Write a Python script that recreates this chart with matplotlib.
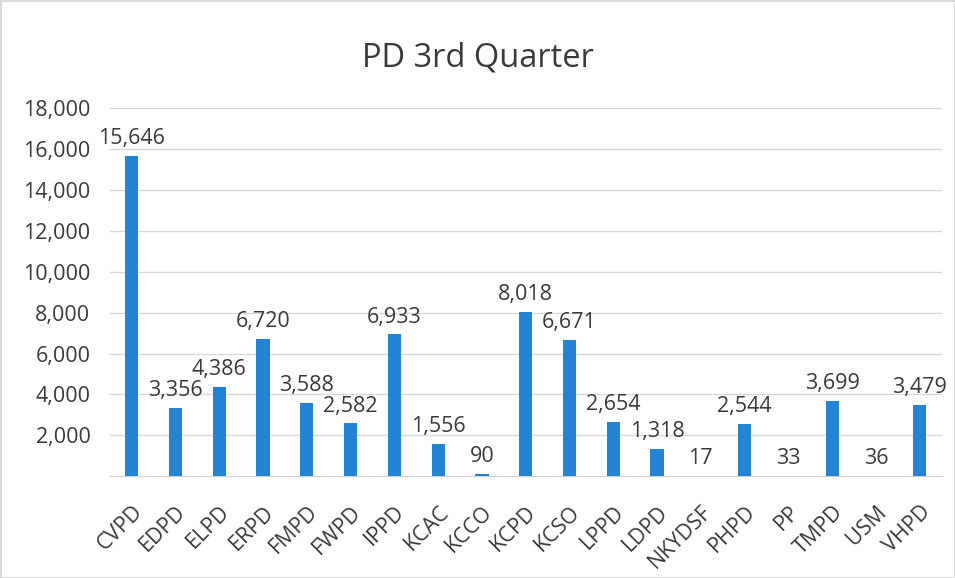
import matplotlib.pyplot as plt
from matplotlib.ticker import FuncFormatter

categories = ['CVPD', 'EDPD', 'ELPD', 'ERPD', 'FMPD', 'FWPD', 'IPPD', 'KCAC', 'KCCO',
              'KCPD', 'KCSO', 'LPPD', 'LDPD', 'NKYDSF', 'PHPD', 'PP', 'TMPD', 'USM', 'VHPD']
values = [15646, 3356, 4386, 6720, 3588, 2582, 6933, 1556, 90,
          8018, 6671, 2654, 1318, 17, 2544, 33, 3699, 36, 3479]
y_ticks = [2000, 4000, 6000, 8000, 10000, 12000, 14000, 16000, 18000]

plt.rcParams['font.family'] = ['Open Sans', 'DejaVu Sans']
text_color = '#3a3a3a'
bar_color = '#2384d3'

fig = plt.figure(figsize=(9.55, 5.78), dpi=100)
fig.patch.set_facecolor('white')
fig.patch.set_edgecolor('#d9d9d9')
fig.patch.set_linewidth(2)

ax = fig.add_axes([0.115, 0.176, 0.871, 0.637])
x = range(len(categories))
ax.bar(x, values, width=0.3, color=bar_color, zorder=3)

for xi, v in zip(x, values):
    ax.annotate(f'{v:,}', (xi, v), xytext=(0, 5), textcoords='offset points',
                ha='center', va='bottom', fontsize=15.5, color=text_color)

ax.set_xlim(-0.5, len(categories) - 0.5)
ax.set_ylim(0, 18000)
ax.set_yticks(y_ticks)
ax.yaxis.set_major_formatter(FuncFormatter(lambda v, p: f'{int(v):,}'))
ax.set_xticks(list(x))
ax.set_xticklabels(categories, rotation=45, ha='right', rotation_mode='anchor')
ax.tick_params(axis='both', length=0, labelsize=15.5, labelcolor=text_color)
ax.tick_params(axis='y', pad=14)
ax.tick_params(axis='x', pad=18)

ax.grid(axis='y', color='#d9d9d9', linewidth=1, zorder=0)
for side in ['top', 'right', 'left']:
    ax.spines[side].set_visible(False)
ax.spines['bottom'].set_color('#d0d0d0')

fig.text(0.5, 0.9, 'PD 3rd Quarter', ha='center', va='center',
         fontsize=23.5, color=text_color)

fig.savefig('out.png', dpi=100)
